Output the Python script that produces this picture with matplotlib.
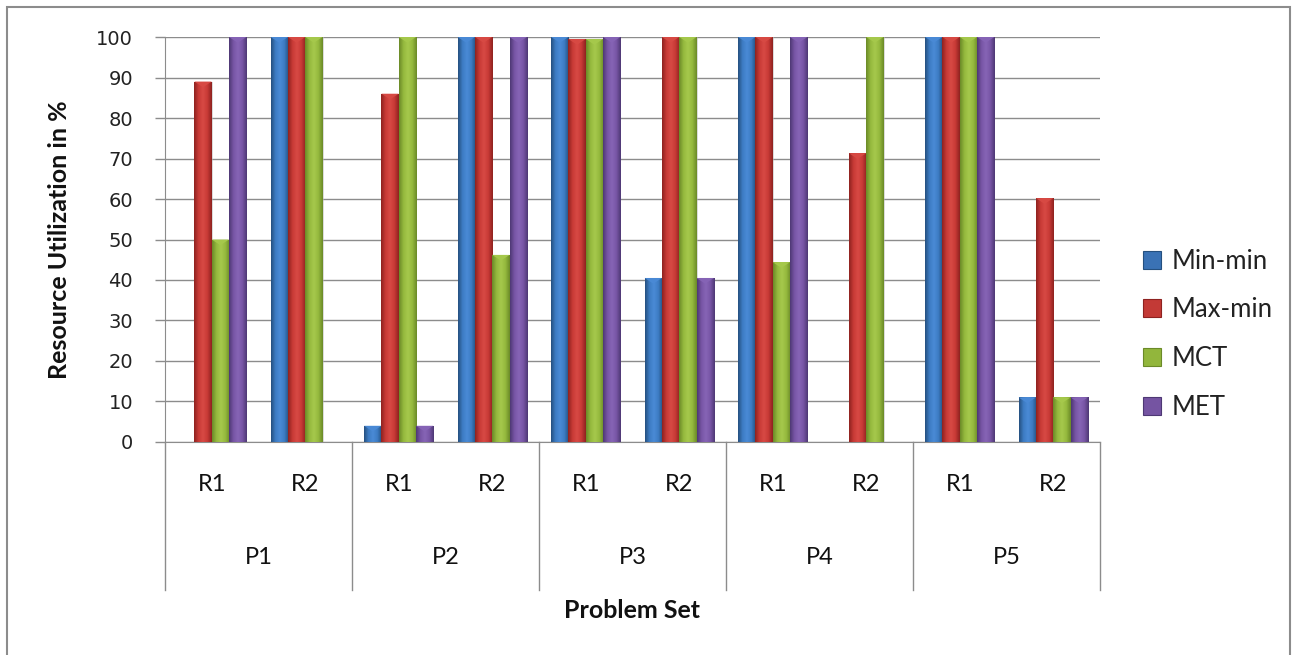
import numpy as np
import matplotlib
matplotlib.use("Agg")
import matplotlib.pyplot as plt
from matplotlib.colors import LinearSegmentedColormap
from matplotlib.patches import Rectangle, Patch
import matplotlib.transforms as mtransforms

# data
problems = ["P1", "P2", "P3", "P4", "P5"]
runs = ["R1", "R2"]
series = ["Min-min", "Max-min", "MCT", "MET"]
min_min = [0, 100, 4, 100, 100, 40.5, 100, 0, 100, 11]
max_min = [89, 100, 86, 100, 99.5, 100, 100, 71.3, 100, 60.2]
mct = [50, 100, 100, 46.2, 99.5, 100, 44.4, 100, 100, 11]
met = [100, 0, 4, 100, 100, 40.5, 100, 0, 100, 11]
values = [min_min, max_min, mct, met]

# dark edge / light middle for the bevelled look
shades = {
    "Min-min": ("#25507f", "#3d7cc4", "#4a8ad6"),
    "Max-min": ("#8e2220", "#c83a36", "#d84a44"),
    "MCT": ("#6b8a28", "#95b93e", "#a6c94c"),
    "MET": ("#4e3874", "#7856a6", "#8664b6"),
}
legend_face = {"Min-min": "#3a72b5", "Max-min": "#c33a36",
               "MCT": "#92b63c", "MET": "#7554a2"}

plt.rcParams["font.family"] = ["Lato", "DejaVu Sans"]

fig = plt.figure(figsize=(12.93, 6.55), dpi=100)
ax = fig.add_axes([0.1276, 0.3252, 0.7231, 0.6183])

n_cat = len(problems) * len(runs)
x = np.arange(n_cat)
width = 0.185
grad = np.linspace(0, 1, 64)

for i, (name, vals) in enumerate(zip(series, values)):
    offs = (i - 1.5) * width
    bars = ax.bar(x + offs, vals, width, color=legend_face[name], zorder=3,
                  linewidth=0)
    dark, mid, light = shades[name]
    cmap = LinearSegmentedColormap.from_list(
        name, [dark, mid, light, mid, dark])
    for b in bars:
        h = b.get_height()
        if h <= 0:
            continue
        x0 = b.get_x()
        w = b.get_width()
        im = ax.imshow(grad[np.newaxis, :], cmap=cmap, aspect="auto",
                       extent=[x0, x0 + w, 0, h], zorder=4,
                       interpolation="bilinear")
        im.set_clip_path(b)
        # little highlight wedge on top of each bar
        ax.fill([x0, x0 + w, x0 + w / 2], [h, h, h - 1.4],
                color=light, alpha=0.95, zorder=5, lw=0)
        # soft shadow on the right side
        ax.add_patch(Rectangle((x0 + w, 0), 0.012, h, color="#b8b8b8",
                               alpha=0.5, lw=0, zorder=2))

ax.set_xlim(-0.5, n_cat - 0.5)
ax.set_ylim(0, 100)
ax.set_yticks(range(0, 101, 10))
ax.yaxis.grid(True, color="#8c8c8c", linewidth=1.0, zorder=0)
ax.set_axisbelow(True)
ax.tick_params(axis="y", length=7, width=1, color="#8c8c8c", pad=16,
               labelsize=14, labelcolor="#222222")
for lbl in ax.get_yticklabels():
    lbl.set_family("DejaVu Sans")
ax.set_xticks([])
for s in ["top", "right"]:
    ax.spines[s].set_visible(False)
ax.spines["left"].set_color("#8c8c8c")
ax.spines["bottom"].set_color("#8c8c8c")

# category axis drawn below the plot: run labels, problem labels, dividers
trans = mtransforms.blended_transform_factory(ax.transData, ax.transAxes)
ax.plot([-0.5, -0.5], [0, -0.365], transform=trans, color="#8c8c8c",
        lw=1, clip_on=False)
for k, p in enumerate(problems):
    right = 2 * k + 1.5
    ax.plot([right, right], [0, -0.365], transform=trans, color="#8c8c8c",
            lw=1, clip_on=False)
    ax.text(2 * k + 0.5, -0.286, p, transform=trans, ha="center",
            va="center", fontsize=17, color="#111111")
    for j, r in enumerate(runs):
        ax.text(2 * k + j, -0.106, r, transform=trans, ha="center",
                va="center", fontsize=17, color="#111111")

ax.text(0.5, -0.415, "Problem Set", transform=ax.transAxes, ha="center",
        va="center", fontsize=18, fontweight="bold", color="#111111")
ax.set_ylabel("Resource Utilization in %", fontsize=18, fontweight="bold",
              color="#111111")
ax.yaxis.set_label_coords(-0.1, 0.5)

handles = [Patch(facecolor=legend_face[s], edgecolor=shades[s][0], lw=0.8)
           for s in series]
fig.legend(handles, series, loc="center left",
           bbox_to_anchor=(0.866, 0.49), frameon=False, fontsize=18.5,
           handlelength=0.7, handleheight=0.7, handletextpad=0.4,
           labelspacing=0.92, labelcolor="#222222")

# outer chart frame
fig.add_artist(Rectangle((0.0054, -0.02), 0.9923, 1.0093,
                         transform=fig.transFigure, fill=False,
                         edgecolor="#8c8c8c", lw=1.5))

fig.savefig("out.png", dpi=100)
